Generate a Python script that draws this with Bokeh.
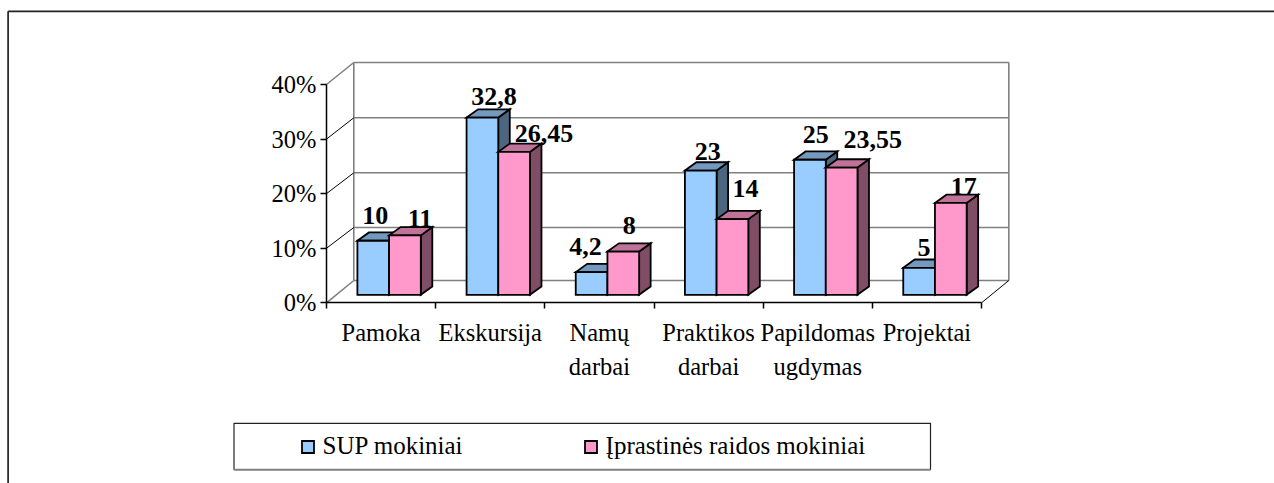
from bokeh.embed import file_html
from bokeh.resources import INLINE
from bokeh.plotting import figure
from bokeh.core.properties import value
from bokeh.models import (ColumnDataSource, Range1d, LinearAxis, FixedTicker,
                          PrintfTickFormatter, Legend, LegendItem)

# ---- data ----
categories_line1 = ["Pamoka", "Ekskursija", "Namų", "Praktikos", "Papildomas", "Projektai"]
categories_line2 = ["", "", "darbai", "darbai", "ugdymas", ""]
sup_values = [10, 32.8, 4.2, 23, 25, 5]
typical_values = [11, 26.45, 8, 14, 23.55, 17]
sup_labels = ["10", "32,8", "4,2", "23", "25", "5"]
typical_labels = ["11", "26,45", "8", "14", "23,55", "17"]
series_names = ["SUP mokiniai", "Įprastinės raidos mokiniai"]
percent_ticks = [0, 10, 20, 30, 40]

# ---- styling / layout ----
FONT = "Liberation Serif"
W, H = 1274, 483
X0, U = 326.0, 109.17   # page px of category 0, px per category
Y0, V = 302.3, 5.4575   # page px of 0 %, px per percent
def ux(px): return (px - X0) / U
def vy(py): return (Y0 - py) / V

BAR_SCALE = 0.99        # bars sit in a slightly shorter 3D box than the axis
BAR_BASE = vy(294.3)
BAR_LEFT = ux(356.9)
BAR_W = 31.7 / U
DEPTH_X = 11.5 / U
DEPTH_Y = 8.3 / V
WALL_DX = 0.25
wall_levels = [vy(280), vy(227), vy(172.3), vy(117.3), vy(62)]

BLUE = ("#99CCFF", "#7399BF", "#4D6680")
PINK = ("#FF99CC", "#BF7399", "#804D66")
LABEL_SHIFT = -9.5
sup_dx = [2, 11.5, -6, 7, 5.7, 5]
sup_dy = [-16, -11.7, -15.7, -10, -15.7, -10.7]
typ_dx = [15, 30, 6, 13, 31, 13]
typ_dy = [-7.3, -8.7, -16.7, -21.3, -18.7, -7]

p = figure(width=W, height=H, output_backend="svg", toolbar_location=None,
           x_range=Range1d(ux(0), ux(W)), y_range=Range1d(vy(H), vy(0)),
           x_axis_location=None, y_axis_location=None,
           min_border=0, outline_line_color=None)
p.grid.visible = False
p.background_fill_color = "white"
p.border_fill_color = "white"

# outer chart frame (runs off the page right and below)
p.segment([ux(7.6), ux(7.6)], [vy(10.8), vy(10.8)], [ux(7.6), ux(W)], [vy(H), vy(10.8)],
          line_color="#222222", line_width=1.7)

# 3D walls
GRAY = "#808080"
n = len(categories_line1)
p.segment([WALL_DX] * len(wall_levels), wall_levels, [n + WALL_DX] * len(wall_levels), wall_levels,
          line_color=GRAY, line_width=1.6)
p.segment([WALL_DX, n + WALL_DX], [wall_levels[0]] * 2, [WALL_DX, n + WALL_DX], [wall_levels[-1]] * 2,
          line_color=GRAY, line_width=1.6)
p.segment([0, 0], [percent_ticks[0], percent_ticks[-1]], [WALL_DX, WALL_DX], [wall_levels[0], wall_levels[-1]],
          line_color=GRAY, line_width=1.6)
p.segment([0, 0, 0, n], percent_ticks[1:4] + [0], [WALL_DX] * 3 + [n + WALL_DX], wall_levels[1:4] + [wall_levels[0]],
          line_color="black", line_width=1)

def draw_series(values, slot, colors, name):
    left = [i + BAR_LEFT + slot * BAR_W for i in range(n)]
    right = [l + BAR_W for l in left]
    top = [BAR_BASE + v * BAR_SCALE for v in values]
    base = [BAR_BASE] * n
    side = dict(xs=[[r, r + DEPTH_X, r + DEPTH_X, r] for r in right],
                ys=[[b, b + DEPTH_Y, t + DEPTH_Y, t] for b, t in zip(base, top)])
    cap = dict(xs=[[l, l + DEPTH_X, r + DEPTH_X, r] for l, r in zip(left, right)],
               ys=[[t, t + DEPTH_Y, t + DEPTH_Y, t] for t in top])
    style = dict(line_color="black", line_width=1.8, line_join="miter")
    p.patches("xs", "ys", source=ColumnDataSource(side), fill_color=colors[2], **style)
    p.patches("xs", "ys", source=ColumnDataSource(cap), fill_color=colors[1], **style)
    return p.quad(left=left, right=right, bottom=base, top=top, fill_color=colors[0], **style), left, top

sup_r, sup_left, sup_top = draw_series(sup_values, 0, BLUE, series_names[0])
typ_r, typ_left, typ_top = draw_series(typical_values, 1, PINK, series_names[1])

# value labels
for left, top, labels, dx, dy in ((sup_left, sup_top, sup_labels, sup_dx, sup_dy),
                                  (typ_left, typ_top, typical_labels, typ_dx, typ_dy)):
    src = ColumnDataSource(dict(x=[l + BAR_W / 2 for l in left], y=top, t=labels, dx=dx,
                                dy=[d + LABEL_SHIFT for d in dy]))
    p.text("x", "y", text="t", x_offset="dx", y_offset="dy", source=src,
           text_font=value(FONT), text_font_style="bold", text_font_size="26px",
           text_align="center", text_baseline="alphabetic", text_color="black")

# axes
def base_axis(ax):
    ax.axis_line_color = "black"
    ax.axis_line_width = 1.5
    ax.major_tick_line_color = "black"
    ax.major_tick_line_width = 1.5
    ax.major_tick_in = 0
    ax.major_tick_out = 6
    ax.minor_tick_line_color = None
    ax.major_label_text_font = FONT
    ax.major_label_text_font_size = "24.5px"
    ax.major_label_text_color = "black"
    return ax

yax = base_axis(LinearAxis(ticker=FixedTicker(ticks=percent_ticks),
                           formatter=PrintfTickFormatter(format="%d%%"),
                           fixed_location=0, bounds=(0, 40)))
yax.major_label_standoff = 4
p.add_layout(yax, "left")

xax = base_axis(LinearAxis(ticker=FixedTicker(ticks=list(range(n + 1))), fixed_location=0, bounds=(0, n)))
xax.major_label_overrides = {i: "" for i in range(n + 1)}
p.add_layout(xax, "below")

centers = [i + 0.5 for i in range(n)]
for labels, standoff in ((categories_line1, 16), (categories_line2, 50)):
    ax = base_axis(LinearAxis(ticker=FixedTicker(ticks=centers), fixed_location=0))
    ax.axis_line_color = None
    ax.major_tick_line_color = None
    ax.major_tick_out = 0
    ax.major_label_standoff = standoff
    ax.major_label_overrides = {c: t for c, t in zip(centers, labels)}
    p.add_layout(ax, "below")

# legend box
p.quad(left=[ux(233.5)], right=[ux(930)], bottom=[vy(469)], top=[vy(422.8)],
       fill_color="white", line_color="#222222", line_width=1.2)
p.segment([ux(233.5)], [vy(469.2)], [ux(930)], [vy(469.2)], line_color=GRAY, line_width=2)

legend = Legend(items=[LegendItem(label=series_names[0], renderers=[sup_r]),
                       LegendItem(label=series_names[1], renderers=[typ_r])],
                orientation="horizontal", location=(299.5, 23),
                border_line_color=None, background_fill_alpha=0,
                padding=0, margin=0, spacing=120, label_standoff=8,
                glyph_width=15, glyph_height=15,
                label_text_font=FONT, label_text_font_size="25px", label_text_color="black")
p.add_layout(legend, "center")

open("out.html", "w").write(file_html(p, INLINE))
